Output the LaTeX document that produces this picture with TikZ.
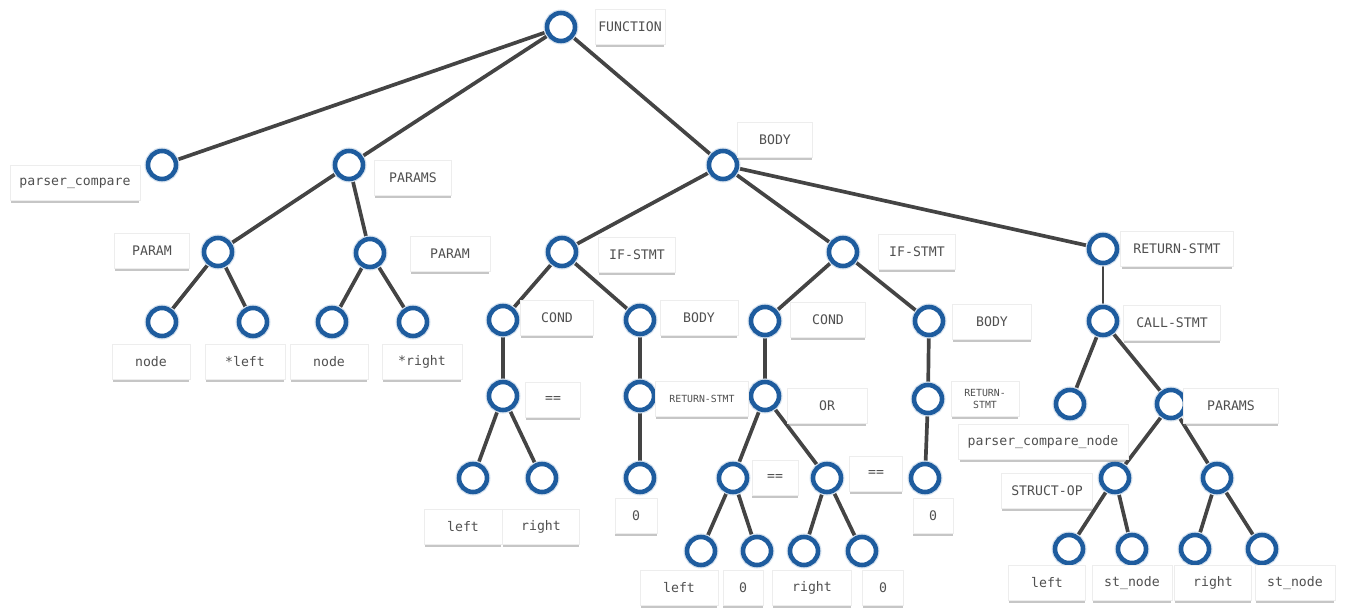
\documentclass[tikz,border=0pt]{standalone}
\usepackage{fontspec}
\setmonofont{DejaVu Sans Mono}
\usepackage{xcolor}
\usepackage{tikz}
\usetikzlibrary{shadows,backgrounds}
\definecolor{nodeblue}{RGB}{30,92,158}
\definecolor{edgegray}{RGB}{68,68,68}
\definecolor{txt}{RGB}{80,80,80}
\newcommand{\lblfont}{\ttfamily\fontsize{7.5pt}{9pt}\selectfont}
\newcommand{\tinylbl}{\ttfamily\fontsize{5.6pt}{6.5pt}\selectfont}

\begin{document}
\begin{tikzpicture}[
  x=0.02cm, y=-0.02cm,
  vtx/.style={circle,draw=nodeblue,fill=white,line width=2.6pt,minimum size=0.56cm,inner sep=0pt,
    preaction={draw=nodeblue!18,line width=4pt}},
  lbl/.style={rectangle,fill=white,draw=black!7,line width=0.4pt,minimum width=#1,minimum height=0.7cm,inner sep=1pt,align=center,
    font=\lblfont,text=txt,drop shadow={shadow xshift=0pt,shadow yshift=-1.5pt,shadow scale=0.98,opacity=0.45}},
  lbl/.default=1.56cm,
  edge/.style={draw=edgegray,line width=2.1pt},
  thinedge/.style={draw=edgegray,line width=0.9pt}
]
  \useasboundingbox (0,0) rectangle (1346,611);

  % tree vertices
  \node[vtx] (fn)    at (561,27)  {};
  \node[vtx] (pc)    at (162,165) {};
  \node[vtx] (prm)   at (349,165) {};
  \node[vtx] (body)  at (723,165) {};
  \node[vtx] (pa)    at (218,252) {};
  \node[vtx] (pb)    at (370,253) {};
  \node[vtx] (na)    at (162,322) {};
  \node[vtx] (la)    at (253,322) {};
  \node[vtx] (nb)    at (332,322) {};
  \node[vtx] (rb)    at (413,322) {};
  \node[vtx] (if1)   at (562,252) {};
  \node[vtx] (cond1) at (503,320) {};
  \node[vtx] (body1) at (640,320) {};
  \node[vtx] (eq1)   at (503,396) {};
  \node[vtx] (ret1)  at (640,396) {};
  \node[vtx] (l1)    at (473,478) {};
  \node[vtx] (r1)    at (542,478) {};
  \node[vtx] (z1)    at (640,478) {};
  \node[vtx] (if2)   at (843,252) {};
  \node[vtx] (cond2) at (765,321) {};
  \node[vtx] (body2) at (929,321) {};
  \node[vtx] (orop)  at (765,396) {};
  \node[vtx] (ret2)  at (928,399) {};
  \node[vtx] (eqa)   at (733,478) {};
  \node[vtx] (eqb)   at (827,478) {};
  \node[vtx] (z2)    at (925,478) {};
  \node[vtx] (l2)    at (701,551) {};
  \node[vtx] (z3)    at (757,551) {};
  \node[vtx] (r2)    at (804,551) {};
  \node[vtx] (z4)    at (862,551) {};
  \node[vtx] (ret3)  at (1103,249) {};
  \node[vtx] (call)  at (1103,321) {};
  \node[vtx] (pcn)   at (1070,404) {};
  \node[vtx] (prm2)  at (1171,404) {};
  \node[vtx] (sop)   at (1115,478) {};
  \node[vtx] (rp)    at (1217,478) {};
  \node[vtx] (l3)    at (1069,549) {};
  \node[vtx] (st1)   at (1132,549) {};
  \node[vtx] (r3)    at (1195,549) {};
  \node[vtx] (st2)   at (1262,549) {};

  % labels
  \node[lbl=1.4cm]  (tfn)    at (630,27)  {FUNCTION};
  \node[lbl=2.6cm]  (tpc)    at (75,183)  {parser\_compare};
  \node[lbl=1.54cm] (tprm)   at (413,178) {PARAMS};
  \node[lbl=1.5cm]  (tbody)  at (775,140) {BODY};
  \node[lbl=1.5cm]  (tpa)    at (152,251) {PARAM};
  \node[lbl=1.6cm]  (tpb)    at (450,254) {PARAM};
  \node[lbl]        (tna)    at (151,362) {node};
  \node[lbl=1.6cm]  (tla)    at (245,362) {*left};
  \node[lbl]        (tnb)    at (329,362) {node};
  \node[lbl=1.6cm]  (trb)    at (422,362) {*right};
  \node[lbl=1.54cm] (tif1)   at (637,255) {IF-STMT};
  \node[lbl=1.46cm] (tcond1) at (557,318) {COND};
  \node[lbl=1.56cm] (tbody1) at (699,318) {BODY};
  \node[lbl=1.1cm]  (teq1)   at (553,400) {==};
  \node[lbl=1.86cm,font=\tinylbl] (tret1) at (702,399) {RETURN-STMT};
  \node[lbl]        (tl1)    at (463,527) {left};
  \node[lbl=1.54cm] (tr1)    at (541,527) {right};
  \node[lbl=0.84cm] (tz1)    at (636,516) {0};
  \node[lbl=1.54cm] (tif2)   at (917,252) {IF-STMT};
  \node[lbl=1.5cm]  (tcond2) at (828,320) {COND};
  \node[lbl=1.58cm] (tbody2) at (992,322) {BODY};
  \node[lbl=1.6cm]  (tor)    at (827,406) {OR};
  \node[lbl=1.36cm,font=\tinylbl] (tret2) at (985,399) {RETURN-\\STMT};
  \node[lbl=0.92cm] (teqa)   at (775,478) {==};
  \node[lbl=1.06cm] (teqb)   at (876,474) {==};
  \node[lbl=0.8cm]  (tz2)    at (933,516) {0};
  \node[lbl]        (tl2)    at (679,588) {left};
  \node[lbl=0.8cm]  (tz3)    at (743,588) {0};
  \node[lbl=1.58cm] (tr2)    at (812,588) {right};
  \node[lbl=0.82cm] (tz4)    at (883,588) {0};
  \node[lbl=2.26cm] (tret3)  at (1177,249) {RETURN-STMT};
  \node[lbl=1.94cm] (tcall)  at (1172,323) {CALL-STMT};
  \node[lbl=3.4cm]  (tpcn)   at (1043,442) {parser\_compare\_node};
  \node[lbl=1.9cm]  (tprm2)  at (1231,406) {PARAMS};
  \node[lbl=1.82cm] (tsop)   at (1047,491) {STRUCT-OP};
  \node[lbl=1.54cm] (tl3)    at (1047,583) {left};
  \node[lbl=1.6cm]  (tst1)   at (1132,583) {st\_node};
  \node[lbl=1.54cm] (tr3)    at (1213,583) {right};
  \node[lbl=1.6cm]  (tst2)   at (1295,583) {st\_node};

  % edges
  \begin{scope}[on background layer]
    \draw[edge] (fn) -- (pc);
    \draw[edge] (fn) -- (prm);
    \draw[edge] (fn) -- (body);
    \draw[edge] (prm) -- (pa);
    \draw[edge] (prm) -- (pb);
    \draw[edge] (pa) -- (na);
    \draw[edge] (pa) -- (la);
    \draw[edge] (pb) -- (nb);
    \draw[edge] (pb) -- (rb);
    \draw[edge] (body) -- (if1);
    \draw[edge] (body) -- (if2);
    \draw[edge] (body) -- (ret3);
    \draw[edge] (if1) -- (cond1);
    \draw[edge] (if1) -- (body1);
    \draw[edge] (cond1) -- (eq1);
    \draw[edge] (eq1) -- (l1);
    \draw[edge] (eq1) -- (r1);
    \draw[edge] (body1) -- (ret1);
    \draw[edge] (ret1) -- (z1);
    \draw[edge] (if2) -- (cond2);
    \draw[edge] (if2) -- (body2);
    \draw[edge] (cond2) -- (orop);
    \draw[edge] (orop) -- (eqa);
    \draw[edge] (orop) -- (eqb);
    \draw[edge] (eqa) -- (l2);
    \draw[edge] (eqa) -- (z3);
    \draw[edge] (eqb) -- (r2);
    \draw[edge] (eqb) -- (z4);
    \draw[edge] (body2) -- (ret2);
    \draw[edge] (ret2) -- (z2);
    \draw[thinedge] (ret3) -- (call);
    \draw[edge] (call) -- (pcn);
    \draw[edge] (call) -- (prm2);
    \draw[edge] (prm2) -- (sop);
    \draw[edge] (prm2) -- (rp);
    \draw[edge] (sop) -- (l3);
    \draw[edge] (sop) -- (st1);
    \draw[edge] (rp) -- (r3);
    \draw[edge] (rp) -- (st2);
  \end{scope}
\end{tikzpicture}
\end{document}
